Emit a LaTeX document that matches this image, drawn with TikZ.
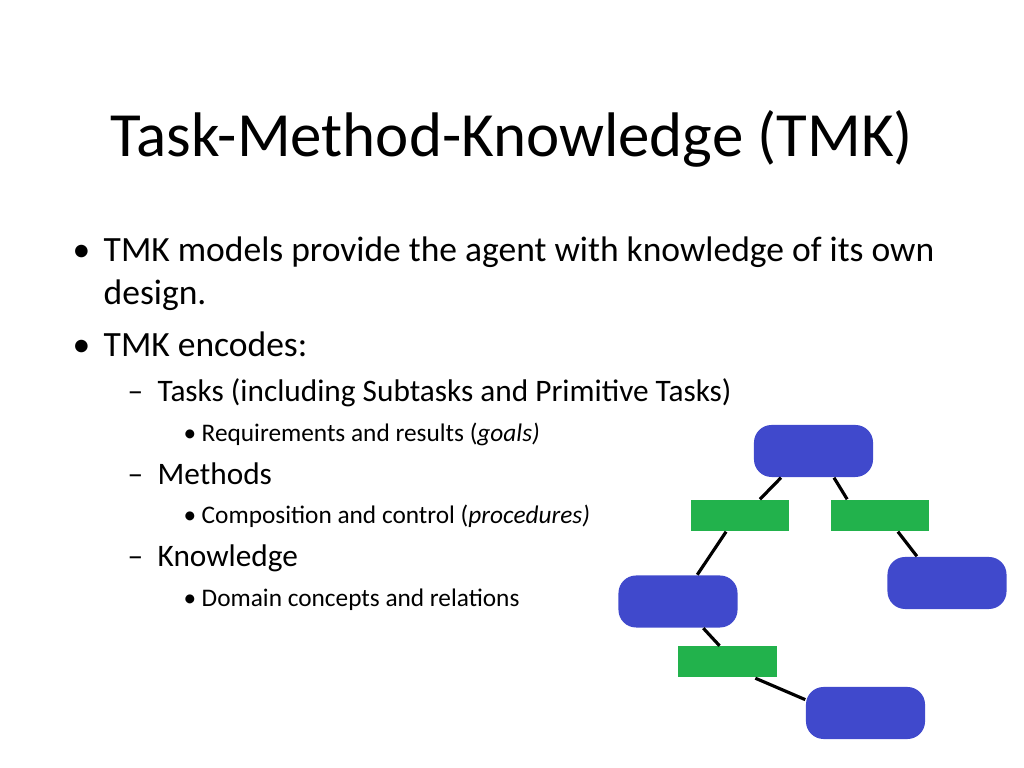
\documentclass[tikz,border=0pt]{standalone}
\usepackage{fontspec}
\setmainfont{Carlito}
\usetikzlibrary{calc}
\definecolor{taskblue}{HTML}{4049CC}
\definecolor{methgreen}{HTML}{22B24C}
\tikzset{
  task/.style={draw=none,fill=taskblue,rounded corners=5pt,minimum width=1.19cm,minimum height=0.52cm,inner sep=0},
  meth/.style={draw=none,fill=methgreen,minimum width=0.98cm,minimum height=0.31cm,inner sep=0},
  link/.style={line width=0.9pt},
  lvlone/.style={anchor=base west,inner sep=0,font=\fontsize{10.1pt}{12pt}\selectfont},
  lvltwo/.style={anchor=base west,inner sep=0,font=\fontsize{8.9pt}{10pt}\selectfont},
  lvlthree/.style={anchor=base west,inner sep=0,font=\fontsize{7.2pt}{8pt}\selectfont}
}
\begin{document}
\begin{tikzpicture}[x=0.01cm,y=-0.01cm]
\useasboundingbox (0,0) rectangle (1024,768);
\node[anchor=base,inner sep=0,font=\fontsize{17.9pt}{21pt}\selectfont] (title) at (512,157) {Task-Method-Knowledge (TMK)};

% bullets
\node[lvlone] (b1) at (72,262) {\textbullet};
\node[lvlone] (l1) at (103,262) {TMK models provide the agent with knowledge of its own};
\node[lvlone] (l1b) at (103,305) {design.};
\node[lvlone] (b2) at (72,357) {\textbullet};
\node[lvlone] (l2) at (103,357) {TMK encodes:};
\node[lvltwo] (d1) at (127,402) {--};
\node[lvltwo] (t1) at (157,402) {Tasks (including Subtasks and Primitive Tasks)};
\node[lvlthree] (s1) at (183,442) {\textbullet};
\node[lvlthree] (r1) at (201,442) {Requirements and results (\textit{goals)}};
\node[lvltwo] (d2) at (127,485) {--};
\node[lvltwo] (t2) at (157,485) {Methods};
\node[lvlthree] (s2) at (183,524) {\textbullet};
\node[lvlthree] (r2) at (201,524) {Composition and control (\textit{procedures)}};
\node[lvltwo] (d3) at (127,567) {--};
\node[lvltwo] (t3) at (157,567) {Knowledge};
\node[lvlthree] (s3) at (183,607) {\textbullet};
\node[lvlthree] (r3) at (201,607) {Domain concepts and relations};

% tree
\node[task] (ta) at (813.5,451) {};
\node[meth] (ma) at (740,515.5) {};
\node[meth] (mb) at (880,515.5) {};
\node[task] (tb) at (678,601.5) {};
\node[task] (tc) at (947,583) {};
\node[meth] (mc) at (727.5,662) {};
\node[task] (td) at (865.5,713) {};

\draw[link] ($(ta.south west)!0.23!(ta.south east)$) -- ($(ma.north west)!0.7!(ma.north east)$);
\draw[link] ($(ta.south west)!0.67!(ta.south east)$) -- ($(mb.north west)!0.17!(mb.north east)$);
\draw[link] ($(ma.south west)!0.36!(ma.south east)$) -- ($(tb.north west)!0.66!(tb.north east)$);
\draw[link] ($(mb.south west)!0.68!(mb.south east)$) -- ($(tc.north west)!0.25!(tc.north east)$);
\draw[link] ($(tb.south west)!0.71!(tb.south east)$) -- ($(mc.north west)!0.42!(mc.north east)$);
\draw[link] ($(mc.south west)!0.78!(mc.south east)$) -- ($(td.north west)!0.25!(td.south west)$);
\end{tikzpicture}
\end{document}
